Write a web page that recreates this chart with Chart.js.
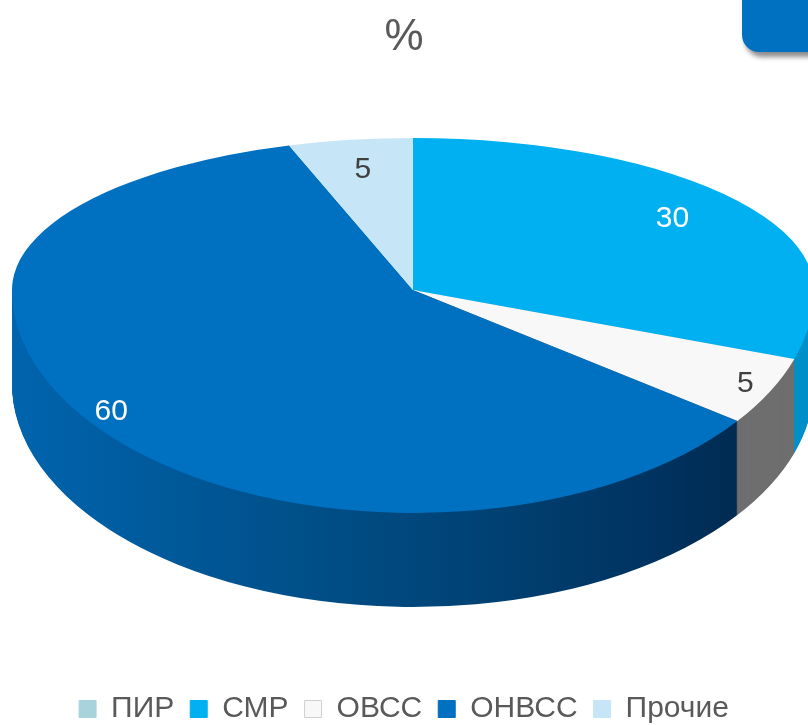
<!DOCTYPE html>
<html>
<head>
<meta charset="utf-8">
<script src="https://cdn.jsdelivr.net/npm/chart.js@4.4.0/dist/chart.umd.min.js"></script>
<style>
  html, body { margin: 0; padding: 0; background: #fff; }
  #wrap { position: relative; width: 808px; height: 725px; overflow: hidden; }
  #wrap canvas { position: absolute; left: 0; top: 0; }
  #tab { position: absolute; left: 742px; top: -40px; width: 110px; height: 92px;
         background: #0070c0; border-radius: 17px; box-shadow: 3px 5px 5px rgba(0,0,0,0.45); }
</style>
</head>
<body>
<div id="wrap">
  <canvas id="chart"></canvas>
  <div id="tab"></div>
</div>
<script>
const labels = ["ПИР", "СМР", "ОВСС", "ОНВСС", "Прочие"];
const values = [0, 30, 5, 60, 5];
const topColors = ["#a9d3dc", "#00b0f0", "#f8f8f8", "#0070c0", "#c6e6f8"];
const sideColors = ["#86b3bc", "#0090c8", "#6e6e6e", "gradient", "#9fc3d8"];
const valueColors = ["#404040", "#ffffff", "#404040", "#ffffff", "#404040"];

// tilted pie placement: back half is flatter than the front (fake perspective)
const CX = 413, CY = 290, RX = 401, RY_BACK = 152, RY_FRONT = 223, DEPTH = 94;
const FONT = "'Liberation Sans', Arial, sans-serif";

function pieTransform(ctx, el, ry, dy) {
  const k = el.outerRadius;
  ctx.setTransform(RX / k, 0, 0, ry / k, CX - el.x * RX / k, CY + dy - el.y * ry / k);
}

function drawArcs(ctx, arcs, colorFor) {
  arcs.forEach((el, i) => {
    if (!values[i]) return;
    const saved = el.options;
    if (colorFor) {
      const c = colorFor(i);
      el.options = Object.assign({}, saved, { backgroundColor: c, borderColor: c, borderWidth: 0 });
    }
    el.draw(ctx);
    el.options = saved;
  });
}

const pie3d = {
  id: "pie3d",
  beforeDatasetDraw(chart, args) {
    const ctx = chart.ctx;
    const W = chart.width, H = chart.height;
    const arcs = args.meta.data;
    const el0 = arcs[0];
    const k = el0.outerRadius;
    const grad = ctx.createLinearGradient(el0.x - k, 0, el0.x + k, 0);
    grad.addColorStop(0, "#0064ae");
    grad.addColorStop(0.3, "#00538f");
    grad.addColorStop(0.55, "#004477");
    grad.addColorStop(0.8, "#003360");
    grad.addColorStop(1, "#002444");

    // side wall, front half only
    for (let d = DEPTH; d > 0; d--) {
      ctx.save();
      ctx.beginPath();
      ctx.rect(0, CY + d, W, H);
      ctx.clip();
      pieTransform(ctx, el0, RY_FRONT, d);
      drawArcs(ctx, arcs, i => sideColors[i] === "gradient" ? grad : sideColors[i]);
      ctx.restore();
    }

    // top face, front half
    ctx.save();
    ctx.beginPath();
    ctx.rect(0, CY, W, H);
    ctx.clip();
    pieTransform(ctx, el0, RY_FRONT, 0);
    drawArcs(ctx, arcs, null);
    ctx.restore();

    // top face, back half is drawn by the chart itself
    ctx.save();
    ctx.beginPath();
    ctx.rect(0, 0, W, CY);
    ctx.clip();
    pieTransform(ctx, el0, RY_BACK, 0);
  },
  afterDatasetDraw(chart) {
    chart.ctx.restore();
  },
  afterDatasetsDraw(chart) {
    const ctx = chart.ctx;
    const arcs = chart.getDatasetMeta(0).data;
    ctx.save();
    ctx.font = "30px " + FONT;
    ctx.textAlign = "center";
    ctx.textBaseline = "middle";
    arcs.forEach((el, i) => {
      if (!values[i]) return;
      const mid = (el.startAngle + el.endAngle) / 2;
      const front = Math.sin(mid) > 0;
      const f = front ? 0.93 : 0.8;
      const ry = front ? RY_FRONT : RY_BACK;
      ctx.fillStyle = valueColors[i];
      ctx.fillText(values[i], CX + Math.cos(mid) * f * RX, CY + Math.sin(mid) * f * ry);
    });
    ctx.restore();
  }
};

new Chart(document.getElementById("chart"), {
  type: "pie",
  data: {
    labels: labels,
    datasets: [{
      data: values,
      backgroundColor: topColors,
      borderWidth: 0,
      clip: false
    }]
  },
  options: {
    responsive: true,
    maintainAspectRatio: false,
    animation: false,
    layout: { padding: { bottom: -9 } },
    plugins: {
      tooltip: { enabled: false },
      title: {
        display: true,
        text: "%",
        color: "#595959",
        font: { size: 44, family: FONT, weight: "normal" },
        padding: { top: 11, bottom: 10 }
      },
      legend: {
        position: "bottom",
        labels: {
          boxWidth: 17,
          boxHeight: 17,
          padding: 16,
          color: "#595959",
          font: { size: 30, family: FONT },
          generateLabels(chart) {
            return labels.map((l, i) => ({
              text: l,
              fillStyle: topColors[i],
              strokeStyle: i === 2 ? "#d0d0d0" : topColors[i],
              lineWidth: 1,
              fontColor: "#595959",
              index: i
            }));
          }
        }
      }
    }
  },
  plugins: [pie3d]
});
</script>
</body>
</html>
